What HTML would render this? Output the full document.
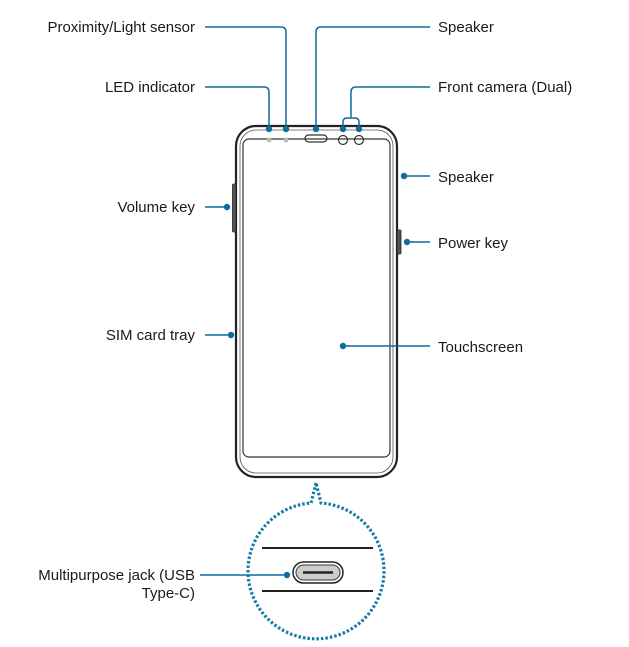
<!DOCTYPE html>
<html><head><style>
html,body{margin:0;padding:0;background:#fff;}
svg{display:block;}
text{font-family:"Liberation Sans",sans-serif;font-size:15px;fill:#1a1a1a;}
</style></head><body>
<svg width="629" height="647" viewBox="0 0 629 647" xmlns="http://www.w3.org/2000/svg">
<rect x="236" y="126" width="161" height="351" rx="20" fill="#fff" stroke="#222" stroke-width="2.2"/>
<rect x="240" y="130" width="153" height="343" rx="16" fill="none" stroke="#555" stroke-width="0.8"/>
<rect x="243" y="139" width="147" height="318" rx="6" fill="none" stroke="#333" stroke-width="1.2"/>
<rect x="232.5" y="184" width="3.5" height="48" rx="1" fill="#555" stroke="#222" stroke-width="0.8"/>
<rect x="397" y="230" width="4" height="24" rx="1" fill="#555" stroke="#222" stroke-width="0.8"/>
<circle cx="269" cy="140" r="2.5" fill="#bbb"/>
<circle cx="286" cy="140" r="2.5" fill="#bbb"/>
<rect x="305" y="135" width="22" height="7" rx="3.5" fill="none" stroke="#333" stroke-width="1.2"/>
<circle cx="343" cy="140" r="4.5" fill="none" stroke="#333" stroke-width="1.2"/>
<circle cx="359" cy="140" r="4.5" fill="none" stroke="#333" stroke-width="1.2"/>
<path d="M316,483 L311,503 A68,68 0 1 0 321,503 Z" fill="#fff" stroke="#1a7aa8" stroke-width="3.2" stroke-dasharray="2.5,2"/>
<line x1="262" y1="548" x2="373" y2="548" stroke="#222" stroke-width="2"/>
<line x1="262" y1="591" x2="373" y2="591" stroke="#222" stroke-width="2"/>
<rect x="293" y="562" width="50" height="21" rx="10.5" fill="#fff" stroke="#222" stroke-width="1.5"/>
<rect x="296" y="565" width="44" height="15" rx="7.5" fill="#ccc" stroke="#333" stroke-width="1"/>
<line x1="303" y1="572.5" x2="333" y2="572.5" stroke="#222" stroke-width="2.5"/>
<g fill="none" stroke="#0f6c9c" stroke-width="1.5">
<path d="M205,27 H281 Q286,27 286,32 V129"/>
<path d="M205,87 H264 Q269,87 269,92 V129"/>
<path d="M430,27 H321 Q316,27 316,32 V129"/>
<path d="M430,87 H356 Q351,87 351,92 V118 M343,129 V122 Q343,118 347,118 H355 Q359,118 359,122 V129"/>
<path d="M404,176 H430"/>
<path d="M205,207 H227"/>
<path d="M407,242 H430"/>
<path d="M205,335 H231"/>
<path d="M343,346 H430"/>
<path d="M200,575 H287"/>
</g>
<g fill="#0f6c9c">
<circle cx="286" cy="129" r="3.2"/><circle cx="269" cy="129" r="3.2"/><circle cx="316" cy="129" r="3.2"/>
<circle cx="343" cy="129" r="3.2"/><circle cx="359" cy="129" r="3.2"/><circle cx="404" cy="176" r="3.2"/>
<circle cx="227" cy="207" r="3.2"/><circle cx="407" cy="242" r="3.2"/><circle cx="231" cy="335" r="3.2"/>
<circle cx="343" cy="346" r="3.2"/><circle cx="287" cy="575" r="3.2"/>
</g>
<g text-anchor="end">
<text x="195" y="32">Proximity/Light sensor</text>
<text x="195" y="92">LED indicator</text>
<text x="195" y="212">Volume key</text>
<text x="195" y="340">SIM card tray</text>
<text x="195" y="580">Multipurpose jack (USB</text>
<text x="195" y="598">Type-C)</text>
</g>
<text x="438" y="32">Speaker</text>
<text x="438" y="92">Front camera (Dual)</text>
<text x="438" y="182">Speaker</text>
<text x="438" y="248">Power key</text>
<text x="438" y="352">Touchscreen</text>
</svg>
</body></html>
